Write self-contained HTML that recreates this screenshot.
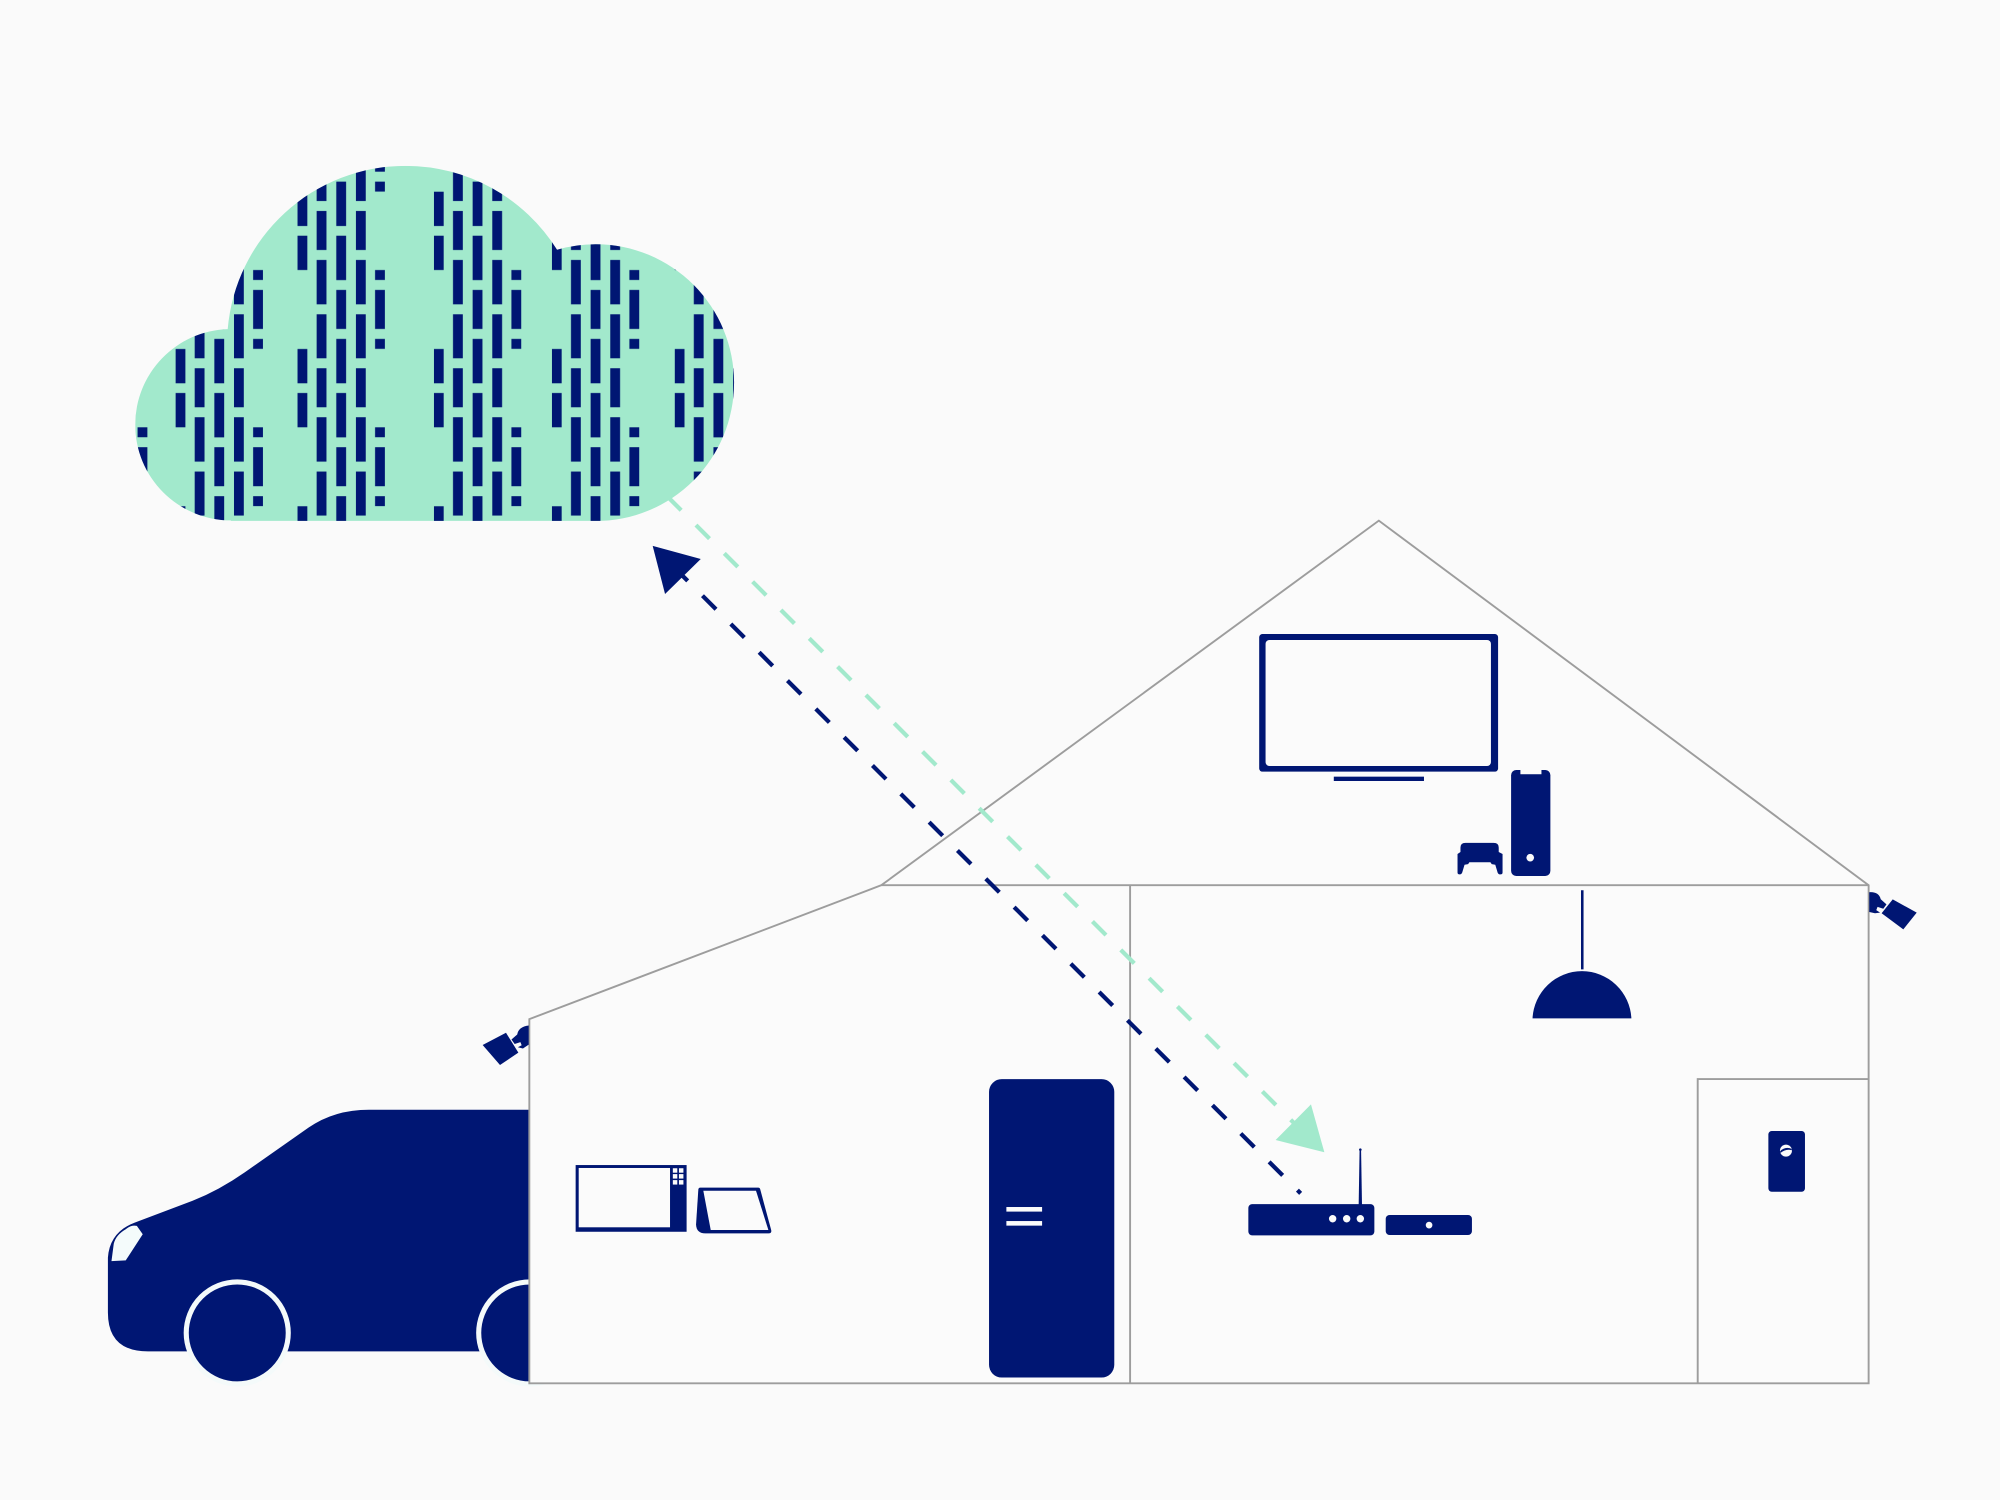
<!DOCTYPE html>
<html>
<head>
<meta charset="utf-8">
<style>
  html, body { margin: 0; padding: 0; background: #fafafa; }
  body { width: 2000px; height: 1500px; overflow: hidden; }
  svg { display: block; }
</style>
</head>
<body>
<svg width="2000" height="1500" viewBox="0 0 1568 1176" xmlns="http://www.w3.org/2000/svg">
  <defs>
    <pattern id="cp" patternUnits="userSpaceOnUse" x="0" y="117.6" width="200" height="123.3">
      <!-- col A -->
      <rect x="0" y="32.7" width="7.7" height="26.9" fill="#001673"/>
      <rect x="0" y="67.2" width="7.7" height="26.9" fill="#001673"/>
      <!-- col B -->
      <rect x="15" y="5.5" width="7.7" height="34.5" fill="#001673"/>
      <rect x="15" y="47.8" width="7.7" height="30.6" fill="#001673"/>
      <rect x="15" y="86.2" width="7.7" height="34.8" fill="#001673"/>
      <!-- col C -->
      <rect x="30.4" y="-13.6" width="7.7" height="30.6" fill="#001673"/>
      <rect x="30.4" y="24.8" width="7.7" height="34.8" fill="#001673"/>
      <rect x="30.4" y="67.2" width="7.7" height="34.8" fill="#001673"/>
      <rect x="30.4" y="109.7" width="7.7" height="30.6" fill="#001673"/>
      <!-- col D -->
      <rect x="45.8" y="5.5" width="7.7" height="34.5" fill="#001673"/>
      <rect x="45.8" y="47.8" width="7.7" height="30.6" fill="#001673"/>
      <rect x="45.8" y="86.2" width="7.7" height="34.8" fill="#001673"/>
      <!-- col E -->
      <rect x="60.8" y="-13.6" width="7.7" height="30.6" fill="#001673"/>
      <rect x="60.8" y="24.8" width="7.7" height="7.8" fill="#001673"/>
      <rect x="60.8" y="94.1" width="7.7" height="7.8" fill="#001673"/>
      <rect x="60.8" y="109.7" width="7.7" height="30.6" fill="#001673"/>
    </pattern>
    <clipPath id="cloudShape">
      <circle cx="181" cy="333" r="75"/>
      <circle cx="318" cy="270" r="140"/>
      <circle cx="467" cy="300" r="108.5"/>
      <rect x="181" y="260" width="286" height="150"/>
    </clipPath>
    <clipPath id="cloudBottom">
      <rect x="0" y="0" width="1568" height="408.4"/>
    </clipPath>
  </defs>

  <rect x="0" y="0" width="1568" height="1176" fill="#fafafa"/>

  <!-- Car (behind house) -->
  <g fill="#001673">
    <path d="M116,1059.5 Q84.6,1059.5 84.6,1029 L84.6,986 Q86,966 105.6,958.5 L151,941.4 Q172,933 192,919 L242,884 Q262,870 289.3,870 L425,870 L425,1059.5 Z"/>
    <circle cx="186" cy="1045" r="40" stroke="#f4fafa" stroke-width="4"/>
    <circle cx="415.3" cy="1045" r="40" stroke="#f4fafa" stroke-width="4"/>
  </g>
  <path d="M87.4,988.7 L98.6,988.1 L111.9,967.7 L107.3,961.1 Q103,960 98.6,963.7 Q91,968 89.2,975 Z" fill="#f4fbfb"/>

  <!-- House fill -->
  <path d="M415,799 L691,694 L1081,408.2 L1465,694 L1465,1084.5 L415,1084.5 Z" fill="#fbfbfb"/>

  <!-- House lines -->
  <g fill="none" stroke="#9d9d9d" stroke-width="1.5" stroke-linejoin="miter">
    <path d="M415,1084.5 L415,799 L691,694 L1081,408.2 L1465,694 L1465,1084.5 Z"/>
    <line x1="691" y1="694" x2="1465" y2="694"/>
    <line x1="886" y1="694" x2="886" y2="1084.5"/>
    <path d="M1331,1084.5 L1331,846 L1465,846"/>
  </g>

  <!-- Cameras -->
  <g fill="#001673">
    <!-- right camera -->
    <path d="M1465.5,699.5 Q1473,699 1474.5,705 L1479,709 L1476.5,712.5 L1472,711 L1471,713.5 L1474,715.5 L1470,716 L1465.5,715 Z"/>
    <polygon points="1475.2,716 1483.9,705.1 1502.7,715.5 1492.2,728.6"/>
    <!-- left camera -->
    <path d="M414.5,804 Q406.5,805 405.5,811 L401,815 L403.5,818.5 L408,817 L409,819.5 L406,821 L410,822 L414.5,819 Z"/>
    <polygon points="378.4,819.3 396.7,809.7 406.4,825.3 392,835"/>
  </g>

  <!-- TV -->
  <rect x="987.2" y="497.1" width="187.3" height="107.9" rx="2.5" fill="#001673"/>
  <rect x="992.2" y="501.8" width="176.7" height="98.7" rx="3" fill="#fbfbfb"/>
  <rect x="1045.7" y="608.9" width="70.7" height="3.4" fill="#001673"/>

  <!-- Console tower -->
  <rect x="1184.7" y="603.7" width="30.8" height="83.1" rx="4" fill="#001673"/>
  <rect x="1192" y="603" width="16.5" height="4" fill="#fbfbfb"/>
  <circle cx="1199.7" cy="672.4" r="3" fill="#fbfbfb"/>

  <!-- Gamepad -->
  <path d="M1145,664.5 Q1145,660.8 1149,660.8 L1171,660.8 Q1175,660.8 1175,664.5 L1175,668 L1178,669.5 L1178,684 Q1178,685.5 1176.5,685.5 L1175.5,685.5 Q1174.3,685.3 1173.8,683 L1172.3,678 L1169.5,677.5 L1168.5,676 L1152,676 L1151,677.5 L1148.2,678 L1146.7,683 Q1146.2,685.5 1144.7,685.5 L1144.2,685.5 Q1142.7,685.5 1142.7,684 L1142.7,669.5 L1145,668 Z" fill="#001673"/>

  <!-- Lamp -->
  <line x1="1240.5" y1="698" x2="1240.5" y2="760" stroke="#001673" stroke-width="2"/>
  <path d="M1201.5,798.4 A38.8,39 0 0 1 1279,798.4 Z" fill="#001673"/>

  <!-- Door device -->
  <rect x="1386.4" y="886.7" width="28.7" height="47.6" rx="2.6" fill="#001673"/>
  <circle cx="1400.2" cy="902.1" r="4.7" fill="#fbfbfb"/>
  <path d="M1395.6,902.6 Q1399.5,898.6 1404.7,900.7 L1404.8,901.8 Q1400,900.4 1395.8,904 Z" fill="#001673"/>

  <!-- Router -->
  <rect x="978.7" y="944" width="98.8" height="24.5" rx="3" fill="#001673"/>
  <circle cx="1044.8" cy="955.5" r="2.9" fill="#fbfbfb"/>
  <circle cx="1055.8" cy="955.5" r="2.9" fill="#fbfbfb"/>
  <circle cx="1066.5" cy="955.5" r="2.9" fill="#fbfbfb"/>
  <path d="M1065.9,902 L1067.1,902 L1067.8,944.5 L1065.2,944.5 Z" fill="#001673"/>
  <circle cx="1066.5" cy="901.3" r="1" fill="#001673"/>
  <rect x="1086.4" y="952.6" width="67.6" height="15.6" rx="3" fill="#001673"/>
  <circle cx="1120.4" cy="960.5" r="2.6" fill="#fbfbfb"/>

  <!-- Fridge -->
  <rect x="775.4" y="846" width="98.2" height="234" rx="10" fill="#001673"/>
  <rect x="789" y="946.3" width="28" height="3.6" fill="#fbfbfb"/>
  <rect x="789" y="957.3" width="28" height="3.6" fill="#fbfbfb"/>

  <!-- Microwave -->
  <rect x="451.3" y="913.4" width="87" height="52.3" fill="#001673"/>
  <rect x="453.7" y="915.7" width="71.6" height="46.5" fill="#fbfbfb"/>
  <g fill="#fbfbfb">
    <rect x="527.5" y="915.9" width="3.5" height="3.5"/>
    <rect x="532.3" y="915.9" width="3.5" height="3.5"/>
    <rect x="527.5" y="920.5" width="3.5" height="3.5"/>
    <rect x="532.3" y="920.5" width="3.5" height="3.5"/>
    <rect x="527.5" y="925.2" width="3.5" height="3.5"/>
    <rect x="532.3" y="925.2" width="3.5" height="3.5"/>
  </g>

  <!-- Tablet / small display -->
  <path d="M549,931.1 L594.5,931.1 Q595.6,931.1 596,932.4 L604.6,964.3 Q605.2,967 602.5,967 L553,967 Q546,967 545.7,960 L547.5,932.5 Q547.7,931.1 549,931.1 Z" fill="#001673"/>
  <polygon points="551.4,933.5 592.7,933.5 602.4,964.3 557.2,964.3" fill="#fbfbfb"/>

  <!-- Mint dashed line (starts behind cloud) -->
  <path d="M500,366 L1030,896" fill="none" stroke="#a2e9cc" stroke-width="3.3" stroke-dasharray="15 16.4" stroke-dashoffset="29.65"/>
  <polygon points="1027.8,865.8 1038.3,903.4 1000.1,893.8" fill="#a2e9cc"/>

  <!-- Navy dashed line -->
  <path d="M518.06,434.36 L1019.7,935.6" fill="none" stroke="#001673" stroke-width="3.3" stroke-dasharray="15 16.4" stroke-dashoffset="16.6"/>
  <polygon points="511.7,428 549.4,438.3 521.4,465.7" fill="#001673"/>

  <!-- Cloud -->
  <g clip-path="url(#cloudBottom)">
    <g clip-path="url(#cloudShape)">
      <rect x="100" y="120" width="490" height="300" fill="#a2e9cc"/>
      <g transform="translate(47.05,0)"><rect x="0" y="100" width="69" height="320" fill="url(#cp)"/></g>
      <g transform="translate(137.65,0)"><rect x="0" y="100" width="69" height="320" fill="url(#cp)"/></g>
      <g transform="translate(233.25,0)"><rect x="0" y="100" width="69" height="320" fill="url(#cp)"/></g>
      <g transform="translate(340.15,0)"><rect x="0" y="100" width="69" height="320" fill="url(#cp)"/></g>
      <g transform="translate(432.65,0)"><rect x="0" y="100" width="69" height="320" fill="url(#cp)"/></g>
      <g transform="translate(528.95,0)"><rect x="0" y="100" width="69" height="320" fill="url(#cp)"/></g>
    </g>
  </g>
</svg>
</body>
</html>
